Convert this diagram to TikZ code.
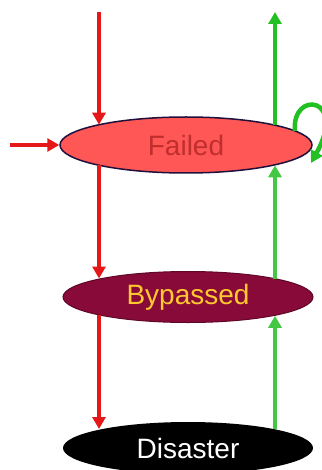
\documentclass[tikz,border=0pt]{standalone}
\usepackage{fontspec}
\setmainfont{Liberation Sans}
\usetikzlibrary{arrows.meta,shapes.geometric,calc}
\definecolor{rline}{HTML}{E41818}
\definecolor{gline}{HTML}{22C022}
\definecolor{gline2}{HTML}{44C844}
\definecolor{failfill}{HTML}{FF5656}
\definecolor{failtext}{HTML}{C02E2E}
\definecolor{failborder}{HTML}{20103C}
\definecolor{byfill}{HTML}{880A38}
\definecolor{bytext}{HTML}{FFC830}
\tikzset{
  state/.style={ellipse, inner sep=0pt, font=\fontsize{28}{28}\selectfont},
  redarrow/.style={draw=rline, line width=4.5pt, -{Triangle[length=12pt,width=13pt]}},
  greenarrow/.style={draw=gline, line width=4.5pt, -{Triangle[length=12pt,width=13pt]}},
}
\begin{document}
\begin{tikzpicture}[x=1pt,y=-1pt]
\useasboundingbox (0,0) rectangle (321,470);
\node[state, fill=failfill, draw=failborder, line width=1.5pt, text=failtext,
      minimum width=252pt, minimum height=56pt] (f) at (186,145) {Failed};
\node[state, fill=byfill, draw=byfill!70!black, line width=1pt, text=bytext,
      minimum width=250pt, minimum height=51pt] (b) at (188,297) {Bypassed};
\node[state, fill=black, text=white,
      minimum width=250pt, minimum height=52pt] (d) at (188,448) {Disaster};
\coordinate (rtop) at (99,12);
\coordinate (lin) at (10,145);
\coordinate (gtop) at (275,12);
\coordinate (loopend) at (311,163);
% red downward path
\draw[redarrow] (rtop) -- ($(f.center)+(-87,-20.3)$);
\draw[redarrow] (lin) -- (f.west);
\draw[redarrow] ($(f.center)+(-87,20.3)$) -- ($(b.center)+(-89,-18.5)$);
\draw[redarrow] ($(b.center)+(-89,17.9)$) -- ($(d.center)+(-89,-19)$);
% green upward path
\draw[greenarrow, draw=gline2] ($(d.center)+(87,-18.7)$) -- ($(b.center)+(87,18.8)$);
\draw[greenarrow, draw=gline2] ($(b.center)+(87,-18.3)$) -- ($(f.center)+(89,20.3)$);
\draw[greenarrow] ($(f.center)+(89,-19.8)$) -- (gtop);
% self loop
\draw[greenarrow] ($(f.center)+(109,-14)$) .. controls (291,90) and (348,96) .. (loopend);
\end{tikzpicture}
\end{document}
